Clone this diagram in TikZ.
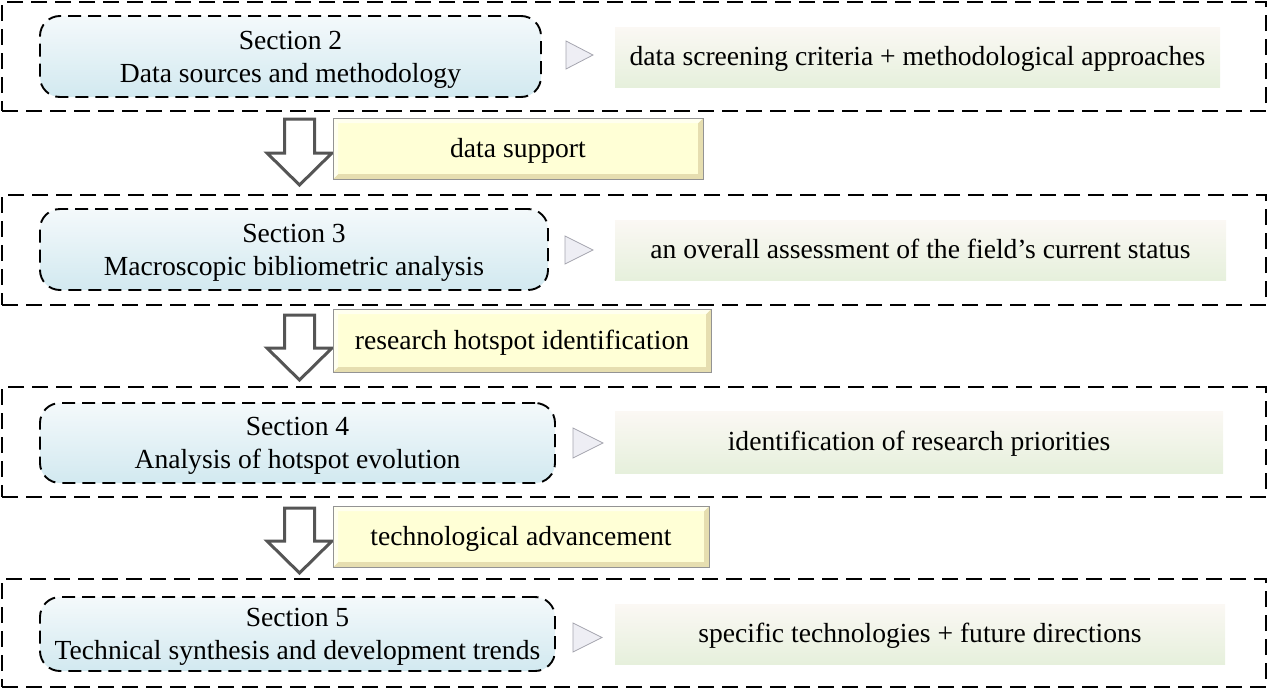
\documentclass[tikz,border=0pt]{standalone}
\usepackage{fontspec}
\setmainfont{Liberation Serif}
\definecolor{secTop}{RGB}{244,249,251}
\definecolor{secBot}{RGB}{210,233,240}
\definecolor{grTop}{RGB}{251,248,244}
\definecolor{grBot}{RGB}{230,240,220}
\definecolor{yel}{RGB}{255,255,214}
\definecolor{yelDark}{RGB}{230,222,176}
\definecolor{arrowGray}{RGB}{85,85,85}
\definecolor{triFill}{RGB}{238,238,244}
\definecolor{triLine}{RGB}{165,165,175}
\newcommand{\upstrut}{\rule{0pt}{24pt}}
\tikzset{
  txt/.style={font=\fontsize{27.6}{33}\selectfont},
  oneline/.style={text height=21pt, text depth=4pt},
  outerbox/.style={draw, line width=2.2pt, dash pattern=on 16pt off 8pt, inner sep=0pt},
  secbox/.style={txt, draw, line width=1.9pt, dash pattern=on 13pt off 7pt,
    rounded corners=20pt, top color=secTop, bottom color=secBot, align=center, inner sep=0pt},
  resbox/.style={txt, oneline, top color=grTop, bottom color=grBot, inner sep=0pt},
  labbox/.style={txt, oneline, draw=gray!85, line width=1pt, fill=yel, inner sep=0pt,
    path picture={
      \fill[yelDark] (path picture bounding box.south west) -- (path picture bounding box.south east)
        -- (path picture bounding box.north east) -- ([shift={(-5pt,-5pt)}]path picture bounding box.north east)
        -- ([shift={(-5pt,5pt)}]path picture bounding box.south east) -- ([shift={(5pt,5pt)}]path picture bounding box.south west) -- cycle;
      \fill[white!60!yel] (path picture bounding box.south west) -- (path picture bounding box.north west)
        -- (path picture bounding box.north east) -- ([shift={(-5pt,-5pt)}]path picture bounding box.north east)
        -- ([shift={(5pt,-5pt)}]path picture bounding box.north west) -- ([shift={(5pt,5pt)}]path picture bounding box.south west) -- cycle;
    }},
  blockarrow/.style={draw=arrowGray, line width=3pt, fill=white, line join=miter},
  tri/.style={draw=triLine, fill=triFill, line width=0.8pt, line join=miter},
}
\begin{document}
\begin{tikzpicture}[x=1pt,y=-1pt]
\useasboundingbox (0,0) rectangle (1269,691);
% outer dashed boxes
\node[outerbox, minimum width=1264pt, minimum height=109pt] (o1) at (634,56.5) {};
\node[outerbox, minimum width=1264pt, minimum height=110pt] (o2) at (634,250) {};
\node[outerbox, minimum width=1264pt, minimum height=110pt] (o3) at (634,442) {};
\node[outerbox, minimum width=1264pt, minimum height=108pt] (o4) at (634,633) {};
% section boxes
\node[secbox, minimum width=501pt, minimum height=81pt] (s2) at (290.5,56.5) {\upstrut Section 2\\Data sources and methodology};
\node[secbox, minimum width=508pt, minimum height=81pt] (s3) at (294,249.5) {\upstrut Section 3\\Macroscopic bibliometric analysis};
\node[secbox, minimum width=515pt, minimum height=80pt] (s4) at (297.5,443) {\upstrut Section 4\\Analysis of hotspot evolution};
\node[secbox, minimum width=515pt, minimum height=74pt] (s5) at (297.5,634) {\upstrut Section 5\\Technical synthesis and development trends};
% result boxes
\node[resbox, minimum width=605pt, minimum height=60pt] (g1) at (917.5,57) {data screening criteria + methodological approaches};
\node[resbox, minimum width=611pt, minimum height=60pt] (g2) at (920.5,250) {an overall assessment of the field’s current status};
\node[resbox, minimum width=608pt, minimum height=62pt] (g3) at (919,442) {identification of research priorities};
\node[resbox, minimum width=610pt, minimum height=60pt] (g4) at (920,634) {specific technologies + future directions};
% small triangles
\draw[tri] (566,41) -- (593,55) -- (566,69) -- cycle;
\draw[tri] (565,236) -- (593,250) -- (565,264) -- cycle;
\draw[tri] (573,428) -- (603,443) -- (573,458) -- cycle;
\draw[tri] (573,623) -- (602,637.5) -- (573,652) -- cycle;
% block arrows
\draw[blockarrow] (284.5,119) -- (314.5,119) -- (314.5,153) -- (332,153) -- (299.5,185) -- (267,153) -- (284.5,153) -- cycle;
\draw[blockarrow] (284.5,315) -- (314.5,315) -- (314.5,348) -- (332,348) -- (299.5,380) -- (267,348) -- (284.5,348) -- cycle;
\draw[blockarrow] (284.5,508) -- (314.5,508) -- (314.5,541) -- (332,541) -- (299.5,573) -- (267,541) -- (284.5,541) -- cycle;
% label boxes
\node[labbox, minimum width=370pt, minimum height=61pt] (l1) at (518,148.5) {data support};
\node[labbox, minimum width=378pt, minimum height=63pt] (l2) at (522,340.5) {research hotspot identification};
\node[labbox, minimum width=376pt, minimum height=61pt] (l3) at (521,536.5) {technological advancement};
\end{tikzpicture}
\end{document}
